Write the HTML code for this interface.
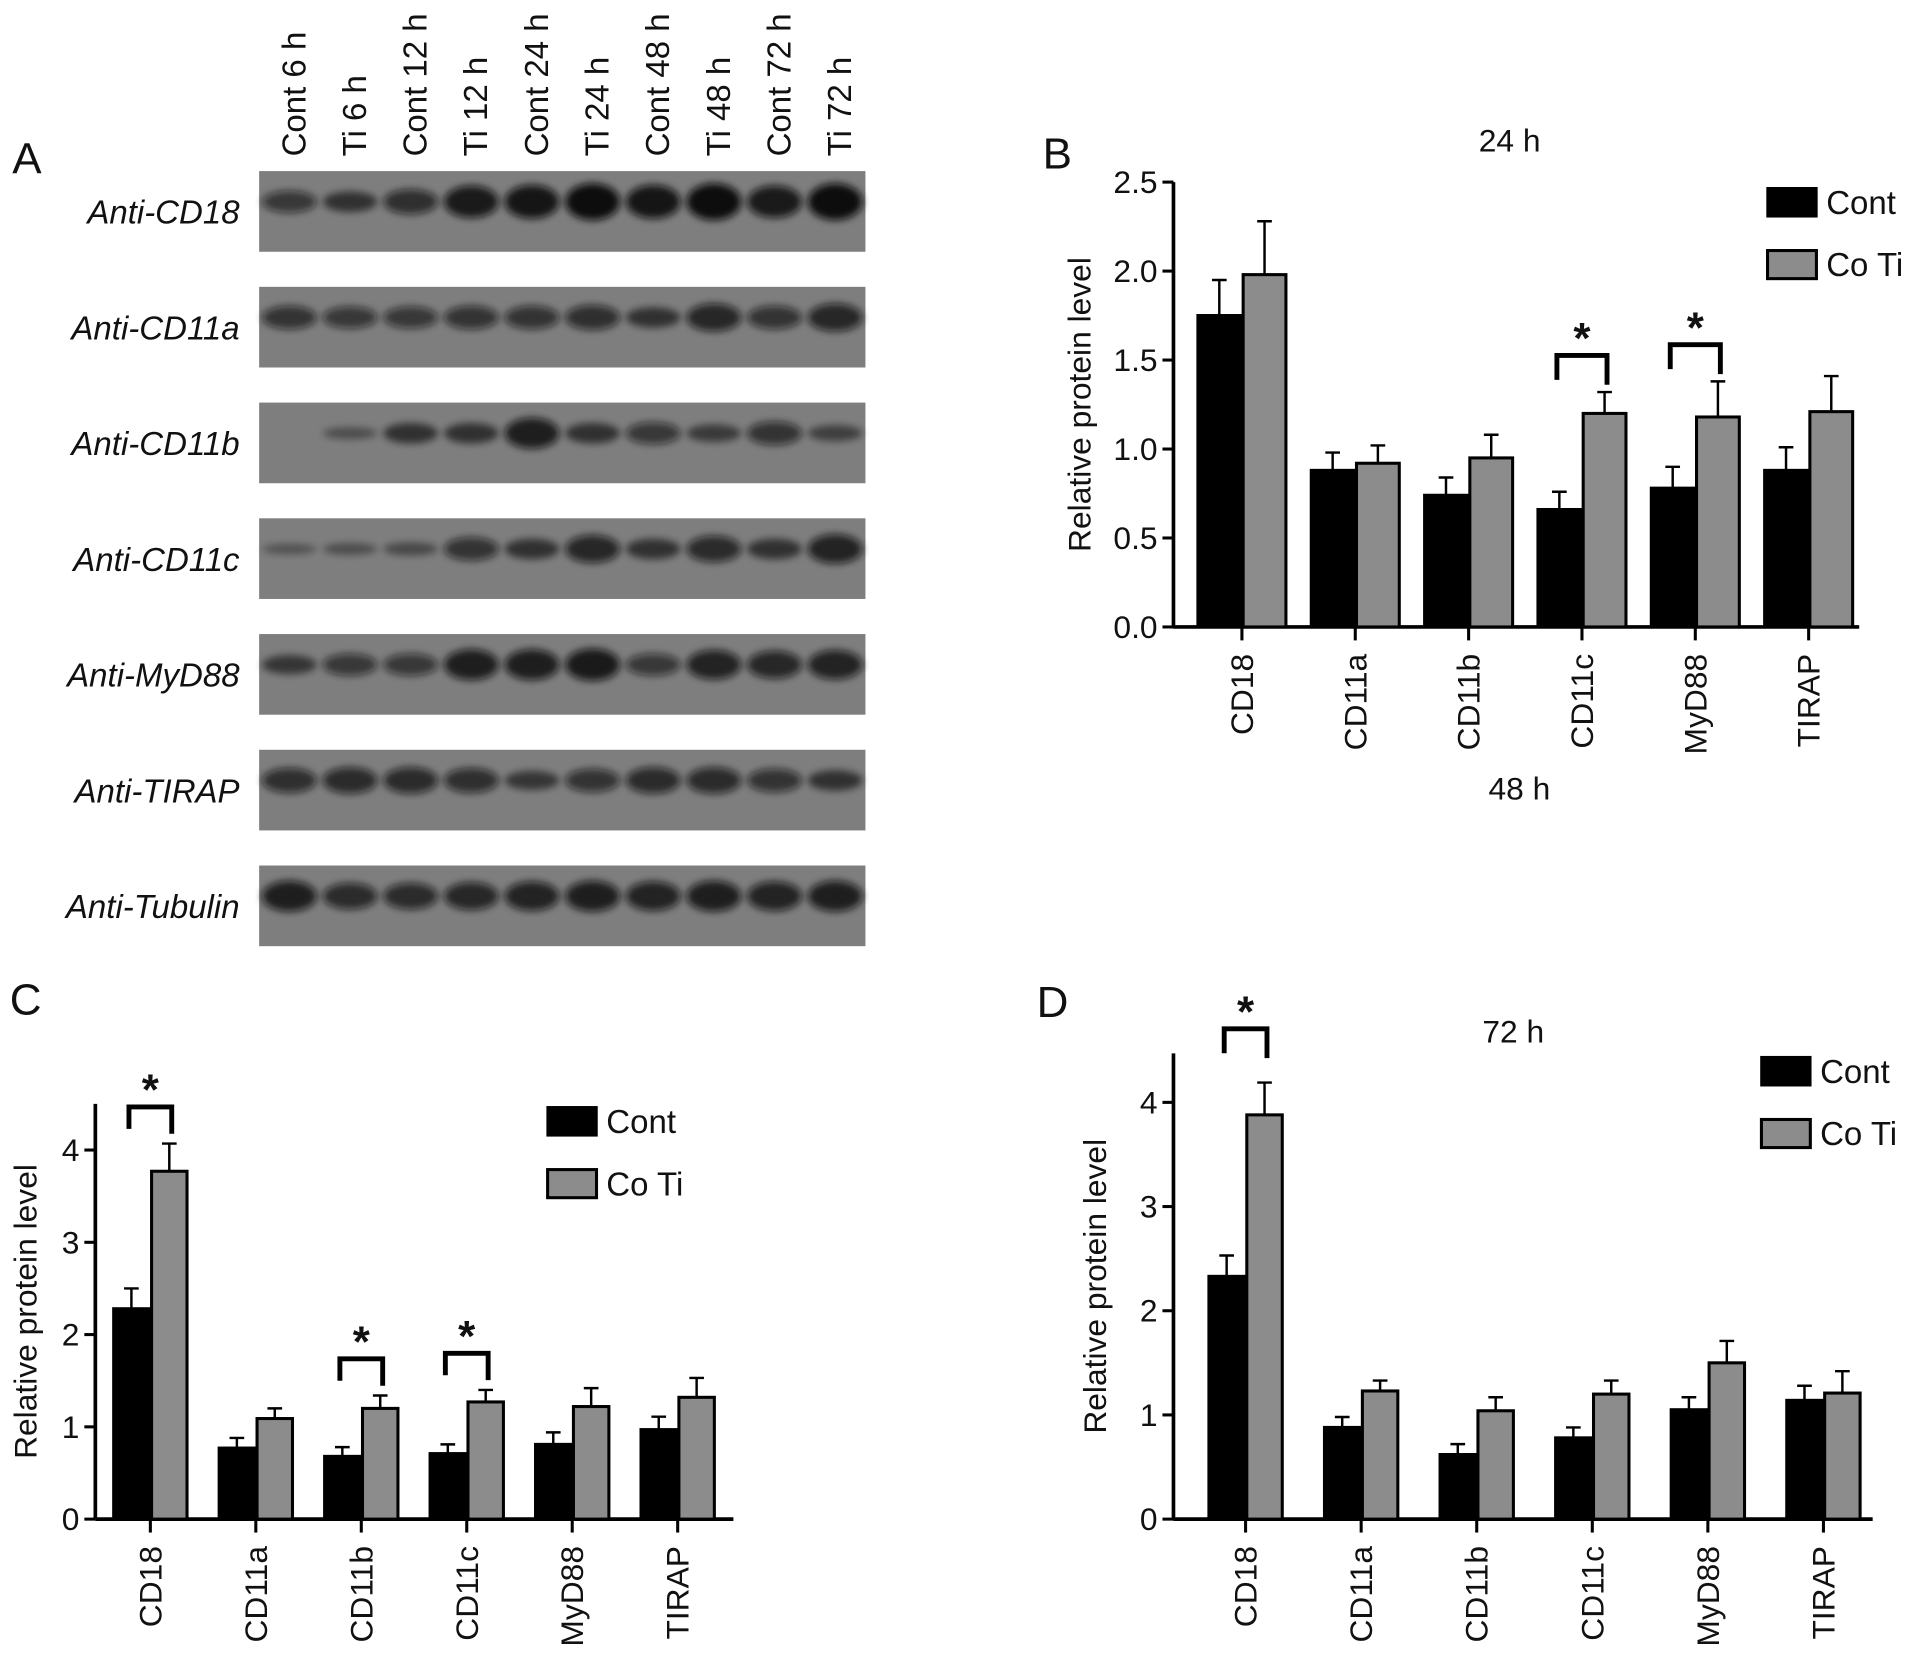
<!DOCTYPE html>
<html><head><meta charset="utf-8"><style>
html,body{margin:0;padding:0;background:#fff;}
svg{display:block;}
text{font-family:"Liberation Sans",Arial,sans-serif;fill:#111;}
</style></head><body>
<svg id="fig" width="1913" height="1667" viewBox="0 0 1565 1364" preserveAspectRatio="none" xmlns="http://www.w3.org/2000/svg">
<defs><filter id="blur" x="-30%" y="-80%" width="160%" height="260%"><feGaussianBlur stdDeviation="3"/></filter></defs>
<g id="blot"></g>
<g id="charts"></g>
</svg>
<script>
const NS='http://www.w3.org/2000/svg';
function mk(tag,attrs,parent,txt){const e=document.createElementNS(NS,tag);for(const k in attrs)e.setAttribute(k,attrs[k]);if(txt!==undefined)e.textContent=txt;parent.appendChild(e);return e;}

// ---------- Blot data ----------
const laneLabels=["Cont 6 h","Ti 6 h","Cont 12 h","Ti 12 h","Cont 24 h","Ti 24 h","Cont 48 h","Ti 48 h","Cont 72 h","Ti 72 h"];
const rowLabels=["Anti-CD18","Anti-CD11a","Anti-CD11b","Anti-CD11c","Anti-MyD88","Anti-TIRAP","Anti-Tubulin"];
const bandCD18=[0.5,0.45,0.6,0.85,0.9,1,0.9,1,0.85,1];
const bandCD11a=[0.55,0.5,0.5,0.55,0.55,0.6,0.45,0.7,0.55,0.7];
const bandCD11b=[0,0.15,0.45,0.45,0.8,0.45,0.5,0.35,0.55,0.3];
const bandCD11c=[0.1,0.15,0.2,0.55,0.45,0.7,0.45,0.65,0.45,0.75];
const bandMyD88=[0.4,0.5,0.5,0.8,0.8,0.85,0.5,0.75,0.7,0.75];
const bandTIRAP=[0.6,0.65,0.65,0.6,0.4,0.55,0.65,0.65,0.55,0.45];
const bandTub=[0.8,0.65,0.65,0.7,0.75,0.8,0.75,0.8,0.75,0.8];
const bandRows=[bandCD18,bandCD11a,bandCD11b,bandCD11c,bandMyD88,bandTIRAP,bandTub];

(function(){
 const g=document.getElementById('blot');
 const x0=212,x1=708,y0=140,h=66,gap=94.7;
 const lw=(x1-x0)/10;
 mk('text',{x:10,y:142,'font-size':36,},g,'A');
 laneLabels.forEach((l,i)=>{const cx=x0+lw*(i+0.5)+3;
  const t=mk('text',{x:0,y:0,'font-size':27,transform:`translate(${cx+10},128) rotate(-90)`},g,l);
  });
 rowLabels.forEach((r,j)=>{const yy=y0+gap*j;
  const t=mk('text',{x:196,y:yy+h/2+10,'font-size':27,'font-style':'italic','text-anchor':'end'},g,r);
  
  const s=mk('rect',{x:x0,y:yy,width:x1-x0,height:h,fill:'#7e7e7e'},g);
  
  bandRows[j].forEach((v,i)=>{if(v<=0)return;const cx=x0+lw*(i+0.5);
   const b=mk('ellipse',{cx:cx,cy:yy+h*0.38,rx:lw*0.45,ry:3+v*12,fill:`rgba(10,10,10,${0.3+0.7*v})`,filter:'url(#blur)'},g);
   });
 });
})();

// ---------- Chart data ----------
const categories=["CD18","CD11a","CD11b","CD11c","MyD88","TIRAP"];
const contB=[1.75,0.88,0.74,0.66,0.78,0.88];
const contErrB=[1.95,0.98,0.84,0.76,0.90,1.01];
const tiB=[1.98,0.92,0.95,1.20,1.18,1.21];
const tiErrB=[2.28,1.02,1.08,1.32,1.38,1.41];
const ticksB=[0,0.5,1.0,1.5,2.0,2.5];
const tickLabelsB=["0.0","0.5","1.0","1.5","2.0","2.5"];
const sigB=[3,4];

const contC=[2.28,0.77,0.68,0.71,0.81,0.97];
const contErrC=[2.50,0.88,0.78,0.81,0.94,1.11];
const tiC=[3.77,1.09,1.20,1.27,1.22,1.32];
const tiErrC=[4.07,1.20,1.34,1.40,1.42,1.53];
const ticksC=[0,1,2,3,4];
const tickLabelsC=["0","1","2","3","4"];
const sigC=[0,2,3];

const contD=[2.33,0.88,0.62,0.78,1.05,1.14];
const contErrD=[2.53,0.98,0.72,0.88,1.17,1.28];
const tiD=[3.88,1.23,1.04,1.20,1.50,1.21];
const tiErrD=[4.19,1.33,1.17,1.33,1.71,1.42];
const ticksD=[0,1,2,3,4];
const tickLabelsD=["0","1","2","3","4"];
const sigD=[0];

function chart(o){
 const g=mk('g',{},document.getElementById('charts'));
 
 const y=v=>o.y0-(v-0)*(o.y0-o.yTop)/o.max;
 const step=(o.xEnd-o.ax)/6.05;
 const xc=i=>o.firstX+step*i;
 const bw=o.bw;
 const ya=mk('line',{x1:o.ax,y1:y(o.axTop),x2:o.ax,y2:o.y0,stroke:'#000','stroke-width':3},g);
 
 const xa=mk('line',{x1:o.ax,y1:o.y0,x2:o.xEnd,y2:o.y0,stroke:'#000','stroke-width':3},g);
 
 o.ticks.forEach((t,i)=>{
  mk('line',{x1:o.ax-9,y1:y(t),x2:o.ax,y2:y(t),stroke:'#000','stroke-width':2.5},g);
  const tl=mk('text',{x:o.ax-13,y:y(t)+9,'font-size':26,'text-anchor':'end'},g,o.tickLabels[i]);
  
 });
 const yt=mk('text',{x:0,y:0,'font-size':26,'text-anchor':'middle',transform:`translate(${o.titleX},${(o.y0+y(o.axTop))/2+o.titleDy}) rotate(-90)`},g,'Relative protein level');
 
 categories.forEach((c,i)=>{
  const cx=xc(i);
  mk('line',{x1:cx,y1:o.y0,x2:cx,y2:o.y0+11,stroke:'#000','stroke-width':2.5},g);
  const cl=mk('text',{x:0,y:0,'font-size':26,'text-anchor':'end',transform:`translate(${cx+9},${o.y0+22}) rotate(-90)`},g,c);
  
  [[o.cont,o.contErr,'#000',cx-bw,'bar-cont'],[o.ti,o.tiErr,'#8c8c8c',cx,'bar-coti']].forEach(s=>{
   const v=s[0][i],e=s[1][i],bx=s[3];
   const b=mk('rect',{x:bx+1,y:y(v),width:bw-2,height:o.y0-y(v),fill:s[2],stroke:'#000','stroke-width':2.5},g);
   
   const ex=bx+bw/2;
   const el=mk('path',{d:`M${ex},${y(v)} V${y(e)} M${ex-6},${y(e)} H${ex+6}`,stroke:'#000','stroke-width':2,fill:'none'},g);
   
  });
 });
 o.sig.forEach(i=>{
  const cx=xc(i);const l=cx-bw/2-2,r=cx+bw/2+2;
  const top=y(o.tiErr[i])-o.brGap;
  const p=mk('path',{d:`M${l},${top+o.brLeg-4} V${top} H${r} V${top+o.brLeg}`,stroke:'#000','stroke-width':4,fill:'none'},g);
  
  const s=mk('text',{x:cx,y:top-2,'font-size':36,'font-weight':'bold','text-anchor':'middle'},g,'*');
  
 });
 const L=o.leg;
 const lg=mk('g',{},g);
 mk('rect',{x:L[0],y:L[1],width:40,height:23,fill:'#000',stroke:'#000','stroke-width':2},lg);
 mk('text',{x:L[0]+48,y:L[1]+21,'font-size':27},lg,'Cont');
 mk('rect',{x:L[0],y:L[1]+51,width:40,height:23,fill:'#8c8c8c',stroke:'#000','stroke-width':2.5},lg);
 mk('text',{x:L[0]+48,y:L[1]+72,'font-size':27},lg,'Co Ti');
 const pl=mk('text',{x:o.label[0],y:o.label[1],'font-size':36},g,o.labelText);
 
 if(o.title){const tt=mk('text',{x:o.title[0],y:o.title[1],'font-size':26,'text-anchor':'middle'},g,o.title[2]);
  }
}

chart({name:'chart-b-24h',ax:960,y0:513,yTop:149,max:2.5,axTop:2.5,xEnd:1521,firstX:1016,bw:37,
 cont:contB,contErr:contErrB,ti:tiB,tiErr:tiErrB,ticks:ticksB,tickLabels:tickLabelsB,sig:sigB,
 brGap:30,brLeg:24,titleX:892,titleDy:0,leg:[1446,154],label:[853,138],labelText:'B',title:[1235,124,'24 h']});
mk('text',{x:1243,y:654,'font-size':26,'text-anchor':'middle',},document.getElementById('charts'),'48 h');
chart({name:'chart-c-48h',ax:78,y0:1243,yTop:941,max:4,axTop:4.5,xEnd:600,firstX:123,bw:31,
 cont:contC,contErr:contErrC,ti:tiC,tiErr:tiErrC,ticks:ticksC,tickLabels:tickLabelsC,sig:sigC,
 brGap:30,brLeg:22,titleX:30,titleDy:0,leg:[448,906],label:[8,830],labelText:'C'});
chart({name:'chart-d-72h',ax:960,y0:1243,yTop:902,max:4,axTop:4.47,xEnd:1532,firstX:1019,bw:31,
 cont:contD,contErr:contErrD,ti:tiD,tiErr:tiErrD,ticks:ticksD,tickLabels:tickLabelsD,sig:sigD,
 brGap:44,brLeg:24,titleX:905,titleDy:0,leg:[1441,865],label:[848,832],labelText:'D',title:[1238,853,'72 h']});
</script>
</body></html>
